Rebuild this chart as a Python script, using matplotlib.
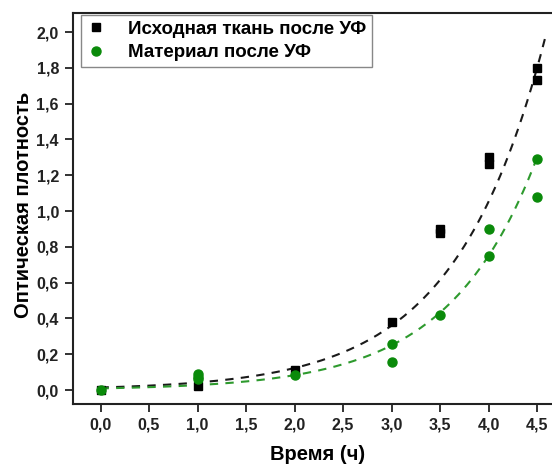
import numpy as np
import matplotlib.pyplot as plt
from matplotlib.ticker import FuncFormatter, MultipleLocator

plt.rcParams['font.family'] = ['Liberation Sans', 'DejaVu Sans']
plt.rcParams['font.weight'] = 'bold'

# исходная ткань после УФ (чёрные квадраты)
t_fabric = [0.0, 1.0, 2.0, 3.0, 3.5, 3.5, 4.0, 4.0, 4.5, 4.5]
d_fabric = [0.0, 0.02, 0.11, 0.38, 0.88, 0.90, 1.26, 1.30, 1.73, 1.80]

# материал после УФ (зелёные кружки)
t_material = [0.0, 1.0, 1.0, 1.0, 2.0, 3.0, 3.0, 3.5, 4.0, 4.0, 4.5, 4.5]
d_material = [0.0, 0.06, 0.075, 0.09, 0.085, 0.155, 0.255, 0.42, 0.75, 0.90, 1.08, 1.29]

# экспоненциальная аппроксимация y = a*exp(b*t)
fit_fabric = (0.0144, 1.073, 4.58)
fit_material = (0.00925, 1.099, 4.5)

xticks = [0.0, 0.5, 1.0, 1.5, 2.0, 2.5, 3.0, 3.5, 4.0, 4.5]

fig = plt.figure(figsize=(5.52, 4.66), dpi=100)
ax = fig.add_axes([0.132, 0.133, 0.885, 0.839])

for (a, b, tmax), col in [(fit_fabric, '#1a1a1a'), (fit_material, '#2e9a2e')]:
    tt = np.linspace(0, tmax, 200)
    ax.plot(tt, a * np.exp(b * tt), ls=(0, (4, 3.5)), lw=1.5, color=col, zorder=2)

ax.plot(t_fabric, d_fabric, 's', color='black', ms=6, label='Исходная ткань после УФ', zorder=3)
ax.plot(t_material, d_material, 'o', color='#0a8a0a', ms=6.5, label='Материал после УФ', zorder=4)

ax.set_xlim(-0.285, 4.75)
ax.set_ylim(-0.078, 2.106)
ax.set_xticks(xticks)
ax.yaxis.set_major_locator(MultipleLocator(0.2))
fmt = FuncFormatter(lambda v, p: f'{v:.1f}'.replace('.', ',').replace('-0,0', '0,0'))
ax.xaxis.set_major_formatter(fmt)
ax.yaxis.set_major_formatter(fmt)

ax.spines['right'].set_visible(False)
for s in ['left', 'bottom', 'top']:
    ax.spines[s].set_linewidth(1.5)
    ax.spines[s].set_color('#222222')
ax.tick_params(direction='out', length=6, width=1.3, labelsize=11.5, pad=4, colors='#222222')

ax.set_xlabel('Время (ч)', fontsize=14.5, fontweight='bold')
ax.xaxis.set_label_coords((318 - 73) / (0.885 * 552), -0.105)
ax.set_ylabel('Оптическая плотность', fontsize=14.5, fontweight='bold')
ax.yaxis.set_label_coords(-0.082, (466 - 205 - 62) / (0.839 * 466))

leg = ax.legend(loc='upper left', bbox_to_anchor=(81 / 552, 1 - 15 / 466),
                bbox_transform=fig.transFigure, borderaxespad=0, fancybox=False,
                fontsize=13.5, handlelength=1.0, handletextpad=1.2, borderpad=0.3,
                labelspacing=0.35, edgecolor='#888888', framealpha=1)
leg.get_frame().set_linewidth(1.0)

fig.savefig('out.png', dpi=100)
